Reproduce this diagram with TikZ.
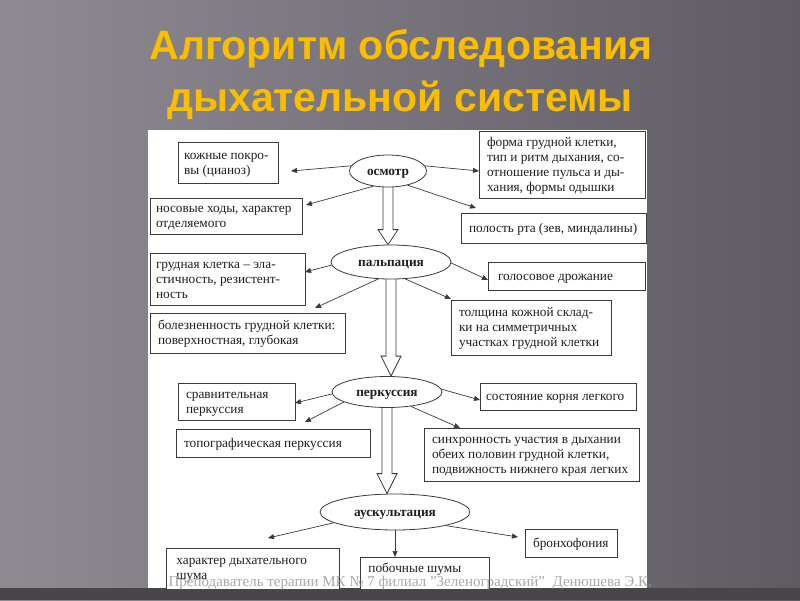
\documentclass[tikz,border=0pt]{standalone}
\usepackage{fontspec}
\setmainfont{Liberation Serif}
\newfontfamily\titlefont{Liberation Sans}
\usetikzlibrary{arrows.meta,calc,shapes.geometric}
\pgfdeclarelayer{back}
\pgfdeclarelayer{under}
\pgfsetlayers{back,under,main}
\definecolor{bgL}{HTML}{8E8C92}
\definecolor{bgR}{HTML}{5E5C62}
\definecolor{bgB}{HTML}{48464B}
\definecolor{titlec}{HTML}{FABD00}
\definecolor{linec}{HTML}{3A3A3A}
\definecolor{txtc}{HTML}{1E1E1E}
\definecolor{footc}{HTML}{A8A8A8}
\tikzset{
 txtfix/.style={execute at begin node={\spaceskip=0pt\xspaceskip=0pt\exhyphenpenalty=10000\hyphenpenalty=10000\relax\rule{0pt}{11.5pt}}, execute at end node={\rule[-2.5pt]{0pt}{2.5pt}}},
 box/.style={draw=linec, line width=0.8pt, fill=white, align=flush left, inner xsep=8pt, inner ysep=0pt, text=txtc, font=\fontsize{13.3}{15}\selectfont, txtfix},
 oval/.style={ellipse, draw=linec, line width=0.8pt, fill=white, inner sep=0pt, text=txtc, font=\bfseries\fontsize{13.3}{15}\selectfont, txtfix},
 conn/.style={draw=linec, line width=0.7pt, -{Triangle[length=6pt,width=5pt]}},
 hollow/.style={draw=linec, line width=0.8pt, fill=white, line join=miter},
}
\newcommand\hollowarr[3]{%
 \filldraw[hollow] let \p1=(#1), \p2=(#2) in
 (\x1-5pt,\y1+3pt) -- (\x1-5pt,\y2+#3) -- (\x1-10pt,\y2+#3) -- (\x1,\y2) -- (\x1+10pt,\y2+#3) -- (\x1+5pt,\y2+#3) -- (\x1+5pt,\y1+3pt);}
\begin{document}
\begin{tikzpicture}[x=1pt,y=-1pt]
\useasboundingbox (0,0) rectangle (800,600);
\begin{pgfonlayer}{back}
\shade[left color=bgL, right color=bgR] (0,0) rectangle (800,600);
\fill[bgB] (0,588) rectangle (800,600);
\fill[white] (148,130) rectangle (647,588);
\end{pgfonlayer}

% title
\node[anchor=base, font=\titlefont\bfseries\fontsize{41}{52}\selectfont, text=titlec] (t1line) at (401,59) {Алгоритм обследования};
\node[anchor=base, font=\titlefont\bfseries\fontsize{41}{52}\selectfont, text=titlec] (t2line) at (400,111) {дыхательной системы};

% stages
\node[oval, minimum width=77, minimum height=32] (osm) at (388,171) {осмотр};
\node[oval, minimum width=120, minimum height=34] (pal) at (391,262) {пальпация};
\node[oval, minimum width=110, minimum height=31] (per) at (387,392) {перкуссия};
\node[oval, minimum width=150, minimum height=36] (aus) at (395,512) {аускультация};

% boxes
\node[box, inner xsep=6pt, text width=88, minimum height=41] (koz) at (228,162.5) {\mbox{кожные~покро-}\\вы~(цианоз)};
\node[box, inner xsep=6pt, text width=140, minimum height=36] (nos) at (226,216) {носовые~ходы,~характер\\отделяемого};
\node[box, text width=150, minimum height=67] (form) at (562,164.5) {форма~грудной~клетки,\\тип~и~ритм~дыхания,~со-\\отношение~пульса~и~ды-\\хания,~формы~одышки};
\node[box, text width=169, minimum height=30] (pol) at (553.5,228) {полость~рта~(зев,~миндалины)};
\node[box, inner xsep=6pt, text width=143, minimum height=52] (gru) at (227.5,279) {грудная~клетка~–~эла-\\стичность,~резистент-\\ность};
\node[box, text width=179, minimum height=40] (bol) at (247.5,333) {болезненность~грудной~клетки:\\поверхностная,~глубокая};
\node[box, inner xsep=10pt, text width=137, minimum height=28] (gol) at (566.5,276) {голосовое~дрожание};
\node[box, text width=144, minimum height=55] (tol) at (531,327.5) {толщина~кожной~склад-\\ки~на~симметричных\\участках~грудной~клетки};
\node[box, text width=101, minimum height=37] (sra) at (236.5,401.5) {сравнительная\\перкуссия};
\node[box, text width=178, minimum height=28] (topo) at (273,443) {топографическая~перкуссия};
\node[box, inner xsep=6pt, text width=144, minimum height=27] (sos) at (558,396.5) {состояние~корня~легкого};
\node[box, text width=199, minimum height=53] (sin) at (531.5,454.5) {синхронность~участия~в~дыхании\\обеих~половин~грудной~клетки,\\подвижность~нижнего~края~легких};
\node[box, text width=76, minimum height=28] (bro) at (571,543) {бронхофония};
\begin{scope}
\clip (148,130) rectangle (647,588);
\node[box, anchor=north west, text width=153, inner xsep=10pt, inner ysep=5pt] (har) at (166,548) {\rule{0pt}{10pt}характер~дыхательного\\шума\rule[-25pt]{0pt}{25pt}};
\node[box, anchor=north west, text width=113, inner xsep=8pt, inner ysep=4pt] (pob) at (360,557) {\rule{0pt}{10pt}побочные~шумы\rule[-30pt]{0pt}{30pt}};
\end{scope}

% free ends of connectors
\coordinate (e1) at (291,171);
\coordinate (e2) at (306,205);
\coordinate (e3) at (479,171);
\coordinate (e4) at (476,208);
\coordinate (e5) at (305,272);
\coordinate (e6) at (315,308);
\coordinate (e7) at (488,280);
\coordinate (e8) at (451,299);
\coordinate (e9) at (295,403);
\coordinate (e10) at (305,422);
\coordinate (e11) at (480,400);
\coordinate (e12) at (460,428);
\coordinate (e13) at (268,538);
\coordinate (e14) at (518,537);

\draw[conn] (osm.172) -- (e1);
\draw[conn] (osm.226) -- (e2);
\draw[conn] (osm.8) -- (e3);
\draw[conn] (osm.324) -- (e4);
\draw[conn] (pal.183) -- (e5);
\draw[conn] (pal.233) -- (e6);
\draw[conn] (pal.359) -- (e7);
\draw[conn] (pal.310) -- (e8);
\draw[conn] (per.182) -- (e9);
\draw[conn] (per.193) -- (e10);
\draw[conn] (per.3) -- (e11);
\draw[conn] (per.329) -- (e12);
\draw[conn] (aus.190) -- (e13);
\draw[conn] (aus.south) -- (aus.south |- pob.north);
\draw[conn] (aus.345) -- (e14);

\begin{pgfonlayer}{under}
\hollowarr{osm.south}{pal.north}{15pt}
\hollowarr{pal.south}{per.north}{20pt}
\hollowarr{per.south}{aus.north}{20pt}
\end{pgfonlayer}

\node[anchor=base west, font=\fontsize{15}{15}\selectfont, text=footc] (foot) at (165,586) {Преподаватель терапии МК № 7 филиал "Зеленоградский"\ \ Денюшева Э.К.};
\end{tikzpicture}
\end{document}
